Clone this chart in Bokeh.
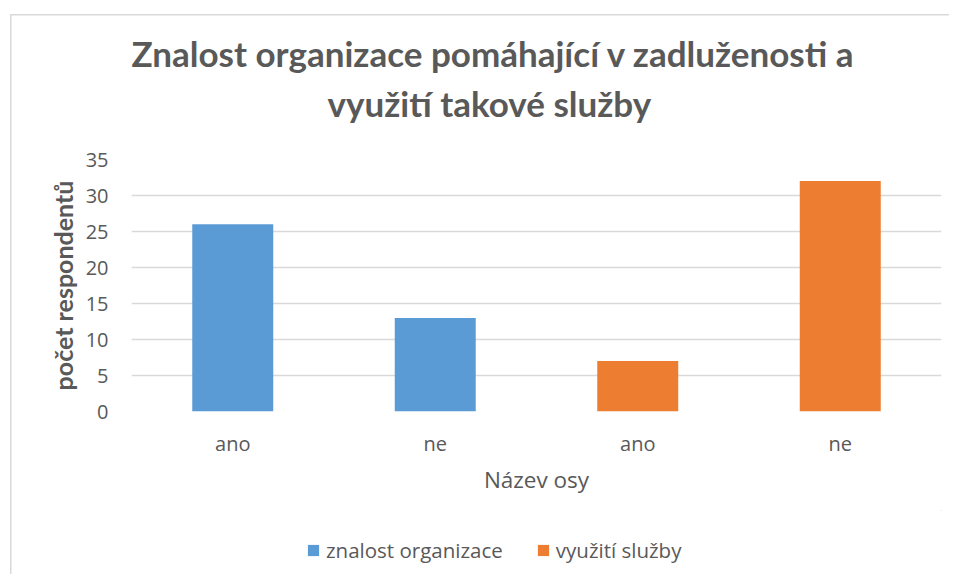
from bokeh.plotting import figure
from bokeh.layouts import column
from bokeh.models import (ColumnDataSource, FixedTicker, Legend, LegendItem,
                          Range1d, Title)
from bokeh.embed import file_html
from bokeh.resources import INLINE

# ---- data ----
title_lines = ["Znalost organizace pomáhající v zadluženosti a", "využití takové služby"]
categories = ["ano", "ne", "ano", "ne"]
values = [26, 13, 7, 32]
bar_series = [0, 0, 1, 1]
series_names = ["znalost organizace", "využití služby"]
series_colors = ["#5B9BD5", "#ED7D31"]
y_ticks = [0, 5, 10, 15, 20, 25, 30, 35]
x_axis_title = "Název osy"
y_axis_title = "počet respondentů"

TEXT = "#595959"
GRID = "#d9d9d9"
LABEL_FONT = "Open Sans"
TITLE_FONT = "Lato"

W = 949
H_MAIN, H_LEG = 510, 64
p = figure(width=W, height=H_MAIN, output_backend="svg", toolbar_location=None,
           x_range=Range1d(0.5, len(categories) + 0.5),
           y_range=Range1d(y_ticks[0], y_ticks[-1]),
           min_border_left=131, min_border_right=8,
           min_border_top=159, min_border_bottom=99)
p.outline_line_color = None
p.background_fill_color = None
p.border_fill_color = None

x_pos = [i + 1 for i in range(len(categories))]

sources = []
for s, color in enumerate(series_colors):
    idx = [i for i, k in enumerate(bar_series) if k == s]
    src = ColumnDataSource(dict(x=[x_pos[i] for i in idx], top=[values[i] for i in idx]))
    sources.append(src)
    p.vbar(x="x", top="top", width=0.4, source=src, fill_color=color, line_color=None)

# axes
p.xaxis.ticker = FixedTicker(ticks=x_pos)
p.xaxis.major_label_overrides = {x: c for x, c in zip(x_pos, categories)}
p.yaxis.ticker = FixedTicker(ticks=y_ticks)
for ax in (p.xaxis, p.yaxis):
    ax.axis_line_color = None
    ax.major_tick_line_color = None
    ax.minor_tick_line_color = None
    ax.major_tick_out = 0
    ax.major_tick_in = 0
    ax.minor_tick_out = 0
    ax.major_label_text_font = LABEL_FONT
    ax.major_label_text_font_size = "20px"
    ax.major_label_text_color = TEXT
    ax.axis_label_text_color = TEXT
p.xaxis.axis_label = x_axis_title
p.xaxis.axis_label_text_font = LABEL_FONT
p.xaxis.axis_label_text_font_size = "22.5px"
p.xaxis.axis_label_text_font_style = "normal"
p.xaxis.major_label_standoff = 18
p.xaxis.axis_label_standoff = 4

p.yaxis.axis_label = y_axis_title
p.yaxis.axis_label_text_font = TITLE_FONT
p.yaxis.axis_label_text_font_size = "25px"
p.yaxis.axis_label_text_font_style = "bold"
p.yaxis.major_label_standoff = 23
p.yaxis.axis_label_standoff = 5

p.xgrid.visible = False
p.ygrid.ticker = FixedTicker(ticks=y_ticks)
p.ygrid.grid_line_color = GRID
p.ygrid.grid_line_width = 1.3

# title (two lines) above the plot, spacer closest to the frame
p.add_layout(Title(text=" ", text_font_size="20px", standoff=7), "above")
p.add_layout(Title(text=title_lines[1], align="left", offset=196,
                   vertical_align="bottom", standoff=10,
                   text_font=TITLE_FONT, text_font_style="bold",
                   text_font_size="35px", text_color=TEXT), "above")
p.add_layout(Title(text=title_lines[0], align="left", offset=0,
                   vertical_align="bottom", standoff=2,
                   text_font=TITLE_FONT, text_font_style="bold",
                   text_font_size="35px", text_color=TEXT), "above")

# legend strip below the chart (same series, kept outside its view ranges)
pl = figure(width=W, height=H_LEG, output_backend="svg", toolbar_location=None,
            x_axis_location=None, y_axis_location=None, min_border=0,
            x_range=Range1d(-10, -9), y_range=Range1d(-10, -9))
pl.outline_line_color = None
pl.grid.visible = False
pl.background_fill_color = None
pl.border_fill_color = None
items = []
for name, color, src in zip(series_names, series_colors, sources):
    r = pl.vbar(x="x", top="top", width=0.4, source=src,
                fill_color=color, line_color=None)
    items.append(LegendItem(label=name, renderers=[r]))
legend = Legend(items=items, location=(175, 10), orientation="horizontal",
                glyph_width=14, glyph_height=14, label_standoff=6, spacing=33,
                padding=0, margin=0, border_line_color=None,
                background_fill_alpha=0,
                label_text_font=LABEL_FONT, label_text_font_size="20.5px",
                label_text_color=TEXT)
pl.add_layout(legend)

layout = column(p, pl, spacing=0, styles={
    "background": ("linear-gradient(#d9d9d9, #d9d9d9) 10px 14px / 2000px 1.5px no-repeat, "
                   "linear-gradient(#d9d9d9, #d9d9d9) 10px 14px / 1.5px 2000px no-repeat, "
                   "white"),
})

open("out.html", "w").write(file_html(layout, INLINE))
